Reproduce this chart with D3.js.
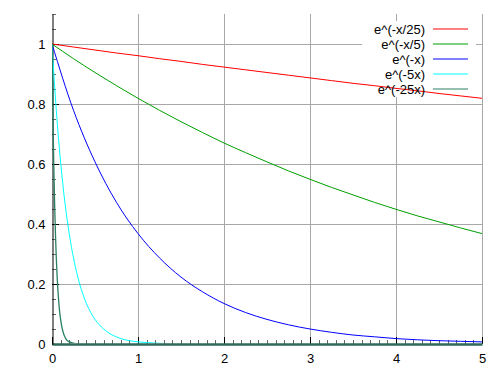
<!DOCTYPE html>
<html>
<head>
<meta charset="utf-8">
<script src="https://cdn.jsdelivr.net/npm/d3@7/dist/d3.min.js"></script>
<style>
  html, body { margin: 0; padding: 0; background: #fff; }
  svg { display: block; font-family: "Liberation Sans", Arial, sans-serif; }
</style>
</head>
<body>
<svg id="chart" width="500" height="375"></svg>
<script>
// ---- data ----
const seriesNames = ["e^(-x/25)", "e^(-x/5)", "e^(-x)", "e^(-5x)", "e^(-25x)"];
const seriesColors = ["#ff0000", "#009e00", "#0000ff", "#00ffff", "#2a7f62"];

const xCoarse = [0,0.25,0.5,0.75,1,1.25,1.5,1.75,2,2.25,2.5,2.75,3,3.25,3.5,3.75,4,4.25,4.5,4.75,5];
const xMid    = [0,0.05,0.1,0.15,0.2,0.25,0.3,0.35,0.4,0.45,0.5,0.55,0.6,0.65,0.7,0.75,0.8,0.85,0.9,0.95,1.0,1.5,2,5];
const xFine   = [0,0.01,0.02,0.03,0.04,0.05,0.06,0.07,0.08,0.09,0.1,0.11,0.12,0.13,0.14,0.15,0.16,0.17,0.18,0.19,0.2,0.3,0.5,5];

const yRed   = [1,0.990,0.980,0.970,0.961,0.951,0.942,0.932,0.923,0.914,0.905,0.896,0.887,0.878,0.869,0.861,0.852,0.844,0.835,0.827,0.819];
const yGreen = [1,0.951,0.905,0.861,0.819,0.779,0.741,0.705,0.670,0.638,0.607,0.577,0.549,0.522,0.497,0.472,0.449,0.427,0.407,0.387,0.368];
const yBlue  = [1,0.779,0.607,0.472,0.368,0.287,0.223,0.174,0.135,0.105,0.082,0.064,0.050,0.039,0.030,0.024,0.018,0.014,0.011,0.009,0.007];
const yCyan  = [1,0.779,0.607,0.472,0.368,0.287,0.223,0.174,0.135,0.105,0.082,0.064,0.050,0.039,0.030,0.024,0.018,0.014,0.011,0.009,0.007,0.0006,0.00005,0];
const ySea   = [1,0.779,0.607,0.472,0.368,0.287,0.223,0.174,0.135,0.105,0.082,0.064,0.050,0.039,0.030,0.024,0.018,0.014,0.011,0.009,0.007,0.0006,0,0];

const xTicks = [0,1,2,3,4,5];
const yTicks = [0,0.2,0.4,0.6,0.8,1];
const yTickLabels = ["0","0.2","0.4","0.6","0.8","1"];

(function () {
// ---- layout ----
const svg = d3.select("#chart");
const pLeft = 52, pRight = 482, pTop = 14, pBottom = 344;
const x = d3.scaleLinear().domain([0, 5]).range([pLeft, pRight]);
const y = d3.scaleLinear().domain([0, 1.1]).range([pBottom, pTop]);

const series = [
  { xs: xCoarse, ys: yRed },
  { xs: xCoarse, ys: yGreen },
  { xs: xCoarse, ys: yBlue },
  { xs: xMid,    ys: yCyan },
  { xs: xFine,   ys: ySea }
].map((s, i) => ({ name: seriesNames[i], color: seriesColors[i], pts: s.xs.map((v, j) => [v, s.ys[j]]) }));

// grid
const grid = svg.append("g").attr("stroke", "#a8a8a8").attr("stroke-width", 1);
xTicks.filter(d => d > 0).forEach(d => {
  grid.append("line").attr("x1", Math.round(x(d)) + 0.5).attr("x2", Math.round(x(d)) + 0.5)
    .attr("y1", pTop).attr("y2", pBottom);
});
yTicks.filter(d => d > 0).forEach(d => {
  grid.append("line").attr("x1", pLeft).attr("x2", pRight)
    .attr("y1", Math.round(y(d)) + 0.5).attr("y2", Math.round(y(d)) + 0.5);
});

// minor / major ticks pointing into the plot
const tk = svg.append("g").attr("stroke-width", 1);
d3.range(0, 51).forEach(i => {
  const v = i / 10;
  const major = i % 10 === 0;
  const px = Math.round(x(v)) + 0.5;
  tk.append("line").attr("x1", px).attr("x2", px).attr("y1", pBottom).attr("y2", pBottom - (major ? 7 : 4))
    .attr("stroke", major ? "#000" : "#666");
});
d3.range(0, 23).forEach(i => {
  const v = i * 0.05;
  const major = i % 4 === 0;
  const py = Math.round(y(v)) + 0.5;
  tk.append("line").attr("x1", pLeft).attr("x2", pLeft + (major ? 7 : 4)).attr("y1", py).attr("y2", py)
    .attr("stroke", major ? "#000" : "#666");
});

// axes
const xAxis = d3.axisBottom(x).tickValues(xTicks).tickSize(0).tickPadding(10).tickFormat(d3.format("d"));
const gx = svg.append("g").attr("transform", `translate(0,${pBottom})`).call(xAxis);
gx.select(".domain").attr("stroke", "#2c6a5a").attr("stroke-width", 2.5);
gx.selectAll("text").attr("font-size", 13).attr("font-family", "Liberation Sans, Arial, sans-serif").attr("fill", "#000");

const yAxis = d3.axisLeft(y).tickValues(yTicks).tickSize(0).tickPadding(7)
  .tickFormat((d, i) => yTickLabels[i]);
const gy = svg.append("g").attr("transform", `translate(${pLeft + 0.5},0)`).call(yAxis);
gy.select(".domain").attr("stroke", "#000");
gy.selectAll("text").attr("font-size", 13).attr("font-family", "Liberation Sans, Arial, sans-serif").attr("fill", "#000");

// legend background
const legX = 425, legY0 = 29, legDy = 15;
svg.append("rect").attr("x", 362).attr("y", 21).attr("width", 114).attr("height", 76).attr("fill", "#fff");

// curves
svg.append("clipPath").attr("id", "plotclip").append("rect")
  .attr("x", pLeft).attr("y", pTop).attr("width", pRight - pLeft).attr("height", pBottom - pTop - 1);
const line = d3.line().x(d => x(d[0])).y(d => y(d[1])).curve(d3.curveMonotoneX);
const gc = svg.append("g").attr("clip-path", "url(#plotclip)");
series.forEach((s, i) => {
  gc.append("path").attr("d", line(s.pts)).attr("fill", "none")
    .attr("stroke", s.color).attr("stroke-width", i === 4 ? 1.3 : 1);
});

// legend
const leg = svg.append("g");
series.forEach((s, i) => {
  const cy = legY0 + i * legDy;
  leg.append("text").attr("x", legX).attr("y", cy).attr("dy", "0.35em")
    .attr("text-anchor", "end").attr("font-size", 13).attr("fill", "#000").text(s.name);
  leg.append("line").attr("x1", 433).attr("x2", 468).attr("y1", cy).attr("y2", cy)
    .style("stroke", s.color).style("stroke-width", 1);
});
})();
</script>
</body>
</html>
